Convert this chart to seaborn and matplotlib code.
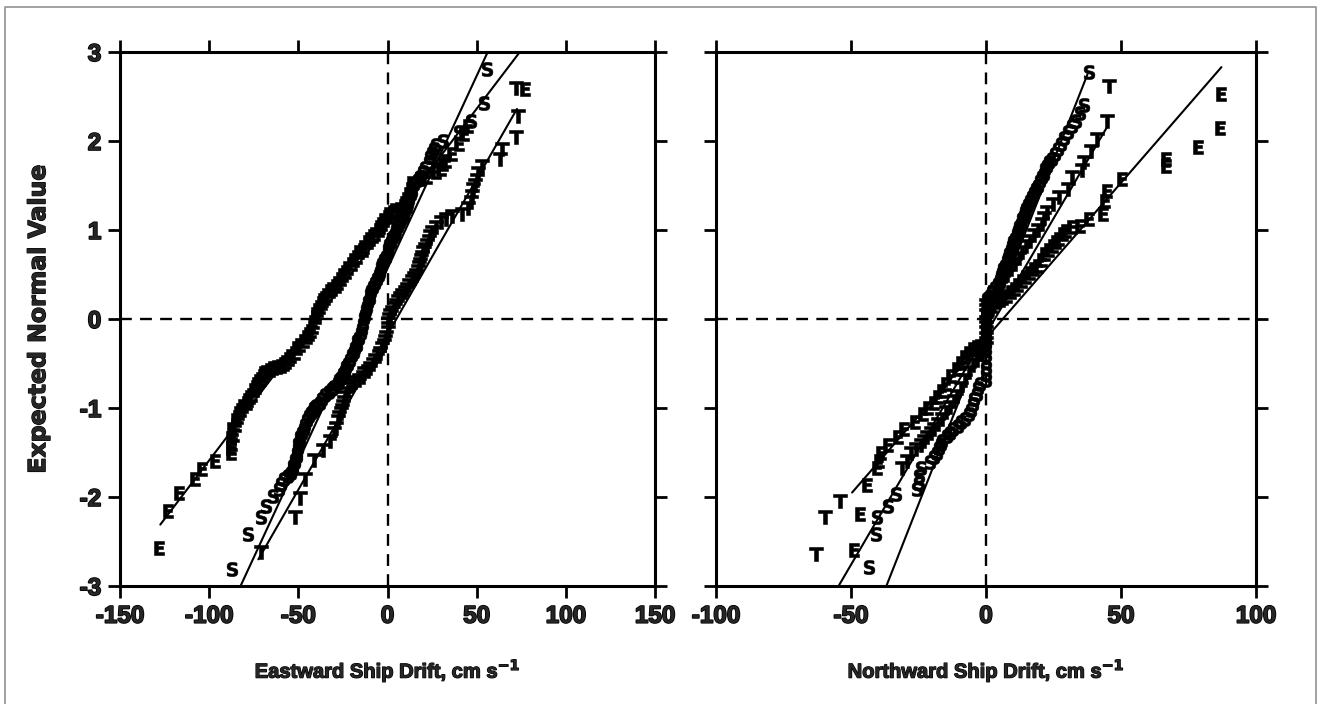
import matplotlib
matplotlib.use("Agg")
import matplotlib.pyplot as plt
import matplotlib.patheffects as pe
import seaborn as sns
import pandas as pd
from matplotlib.lines import Line2D

sns.set_theme(style="ticks")
plt.rcParams['font.family'] = ['Liberation Sans', 'DejaVu Sans']
plt.rcParams['mathtext.fontset'] = 'dejavusans'

# ---------------- data ----------------
# Left panel: eastward ship drift (cm/s) against expected normal value
east_E_x = [-128, -123, -117, -108, -104, -97, -88, -88, -87, -88, -86, -87, -85, -85, -84, -83, -82, -81,
            -79, -78, -77, -76, -75, -74, -73, -72, -71, -70, -69, -68, -66, -64, -62, -60, -58, -57, -55,
            -54, -52, -51, -49, -47, -45, -44, -43, -42, -41, -40, -40, -39, -38, -37, -36, -35, -34, -32,
            -31, -29, -28, -26, -25, -23, -22, -20, -19, -17, -16, -14, -13, -11, -10, -8, -7, -5, -4, -3,
            -2, 0, 1, 3, 4, 7, 9, 10, 11, 12, 13, 14, 18, 22, 27, 30, 31, 33, 36, 40, 43, 45, 77]
east_E_y = [-2.57, -2.16, -1.96, -1.80, -1.69, -1.60, -1.50, -1.45, -1.40, -1.34, -1.30, -1.24, -1.19, -1.14,
            -1.10, -1.06, -1.02, -0.98, -0.94, -0.91, -0.88, -0.85, -0.80, -0.76, -0.73, -0.70, -0.67, -0.64,
            -0.61, -0.59, -0.57, -0.55, -0.54, -0.53, -0.51, -0.48, -0.45, -0.42, -0.38, -0.33, -0.29, -0.25,
            -0.20, -0.17, -0.14, -0.09, -0.03, 0.02, 0.06, 0.10, 0.14, 0.18, 0.21, 0.24, 0.27, 0.31, 0.34,
            0.37, 0.40, 0.45, 0.49, 0.53, 0.57, 0.62, 0.66, 0.70, 0.75, 0.78, 0.81, 0.86, 0.90, 0.93, 0.96,
            1.00, 1.03, 1.07, 1.11, 1.15, 1.18, 1.20, 1.22, 1.24, 1.27, 1.30, 1.35, 1.40, 1.46, 1.53, 1.57,
            1.60, 1.65, 1.69, 1.74, 1.78, 1.85, 1.97, 2.08, 2.17, 2.58]

east_S_x = [-87, -78, -71, -68, -64, -61, -60, -58, -56, -54, -53, -53, -52, -52, -51, -51, -50, -50, -49,
            -49, -48, -47, -46, -45, -44, -43, -42, -41, -40, -38, -37, -35, -33, -31, -30, -28, -27, -26,
            -25, -24, -23, -22, -21, -20, -19, -18, -17, -17, -16, -15, -14.5, -14, -13, -12.5, -12, -11.5,
            -11, -10, -10, -9, -8, -7, -6, -5, -4, -3.5, -3, -2, -1, 0, 0.5, 1, 2, 3, 4, 5, 6, 7, 8, 9, 10,
            11, 11.5, 12, 13, 13.5, 14, 15, 17, 18, 20, 21, 23, 24, 25, 26, 27, 31, 40, 47, 54, 56]
east_S_y = [-2.81, -2.42, -2.23, -2.10, -1.99, -1.91, -1.85, -1.80, -1.76, -1.73, -1.69, -1.65, -1.61, -1.58,
            -1.54, -1.50, -1.45, -1.41, -1.37, -1.33, -1.28, -1.24, -1.19, -1.14, -1.09, -1.06, -1.03, -1.00,
            -0.98, -0.94, -0.90, -0.85, -0.82, -0.79, -0.76, -0.72, -0.69, -0.66, -0.62, -0.58, -0.54, -0.50,
            -0.46, -0.41, -0.37, -0.33, -0.29, -0.25, -0.21, -0.16, -0.11, -0.06, 0.01, 0.05, 0.10, 0.14,
            0.19, 0.24, 0.28, 0.32, 0.36, 0.41, 0.45, 0.49, 0.53, 0.58, 0.62, 0.66, 0.70, 0.75, 0.79, 0.83,
            0.87, 0.92, 0.96, 1.00, 1.05, 1.09, 1.13, 1.17, 1.22, 1.26, 1.30, 1.35, 1.40, 1.44, 1.48, 1.52,
            1.56, 1.60, 1.65, 1.70, 1.76, 1.82, 1.87, 1.91, 1.95, 2.00, 2.10, 2.23, 2.43, 2.81]

east_T_x = [-71, -52, -49, -46, -41, -36, -32, -30, -29, -28, -27, -26, -25.5, -25, -24.5, -24, -23, -22,
            -20, -18, -16, -14, -13, -11, -10, -8, -7, -5, -4, -3, -2, -1.5, -1, 0, 0, 0.5, 1, 1.5, 2.5, 3.5,
            4.5, 6, 7, 8, 10, 11, 12, 14, 15, 16, 17, 17.5, 18, 19, 19.5, 20, 21, 22, 23, 24, 25, 27, 30, 33,
            36, 42, 45, 47, 47.5, 48, 49, 50, 51, 53, 63, 64, 72, 73, 72]
east_T_y = [-2.62, -2.23, -2.01, -1.80, -1.58, -1.47, -1.37, -1.28, -1.22, -1.15, -1.10, -1.06, -1.02, -0.98,
            -0.93, -0.88, -0.83, -0.78, -0.74, -0.71, -0.68, -0.65, -0.61, -0.58, -0.55, -0.50, -0.46, -0.42,
            -0.38, -0.33, -0.29, -0.25, -0.20, -0.15, -0.10, -0.05, 0.00, 0.04, 0.08, 0.12, 0.16, 0.20, 0.24,
            0.27, 0.30, 0.34, 0.38, 0.43, 0.46, 0.49, 0.54, 0.58, 0.62, 0.66, 0.70, 0.75, 0.79, 0.83, 0.88,
            0.93, 0.98, 1.03, 1.09, 1.12, 1.16, 1.18, 1.25, 1.31, 1.38, 1.46, 1.51, 1.56, 1.64, 1.72, 1.80,
            1.91, 2.04, 2.28, 2.60]

# Right panel: northward ship drift (cm/s) against expected normal value
north_S_x = [-43.3, -40.7, -40.4, -36.2, -33.3, -25.5, -25.0, -24.8, -24.1, -20.6, -19.1, -18.2, -17.5,
             -16.8, -16.3, -14.5, -13.2, -12.1, -10.5, -9.2, -7.8, -6.4, -5.6, -4.8, -4.3, -3.5, -2.8, -2.1,
             0, 0, 0, 0, 0, 0, 0, 0, 0, 0, 0, 0, 0, 0.5, 1.5, 2.1, 3.2, 4.3, 5.0, 5.7, 6.0, 6.4, 7.0, 7.6,
             8.0, 8.5, 9.1, 9.6, 10.1, 10.6, 11.3, 12.0, 12.4, 12.8, 13.4, 14.0, 14.4, 14.9, 15.6, 16.3,
             17.0, 17.8, 18.5, 19.1, 20.0, 20.6, 21.3, 22.0, 22.7, 23.4, 24.4, 25.5, 26.5, 27.7, 29.0, 30.5,
             32.0, 33.3, 34.8, 36.2, 38.3]
north_S_y = [-2.79, -2.42, -2.23, -2.10, -1.97, -1.91, -1.84, -1.76, -1.67, -1.61, -1.55, -1.50, -1.45,
             -1.41, -1.37, -1.32, -1.28, -1.24, -1.20, -1.16, -1.12, -1.07, -1.02, -0.96, -0.90, -0.84,
             -0.78, -0.73, -0.69, -0.62, -0.55, -0.48, -0.41, -0.34, -0.27, -0.20, -0.13, -0.06, 0.01, 0.08,
             0.15, 0.22, 0.26, 0.30, 0.35, 0.39, 0.44, 0.48, 0.52, 0.56, 0.60, 0.65, 0.69, 0.73, 0.78, 0.82,
             0.86, 0.90, 0.95, 0.99, 1.03, 1.07, 1.12, 1.16, 1.20, 1.24, 1.28, 1.33, 1.37, 1.42, 1.46, 1.50,
             1.55, 1.59, 1.63, 1.68, 1.72, 1.76, 1.80, 1.85, 1.91, 1.97, 2.03, 2.10, 2.17, 2.23, 2.31, 2.40,
             2.77]

north_T_x = [-63.1, -59.6, -53.9, -31.2, -29.1, -27.7, -26.0, -24.1, -23.0, -22.0, -20.5, -19.1, -17.7,
             -16.3, -14.9, -13.5, -12.0, -10.6, -9.2, -7.8, -6.4, -5.0, -3.5, -2.1, 0, 0, 0, 0, 0, 0, 0, 0,
             0, 1.8, 3.5, 5.0, 6.4, 7.8, 9.2, 10.6, 12.1, 13.5, 14.9, 16.3, 17.7, 19.1, 20.6, 21.6, 22.7,
             24.8, 27.0, 30.5, 31.9, 35.5, 36.2, 39.0, 41.1, 44.7, 45.4]
north_T_y = [-2.64, -2.23, -2.04, -1.67, -1.59, -1.50, -1.46, -1.42, -1.37, -1.33, -1.28, -1.24, -1.18,
             -1.12, -1.05, -0.99, -0.92, -0.86, -0.78, -0.69, -0.60, -0.52, -0.46, -0.39, -0.33, -0.27,
             -0.21, -0.15, -0.09, -0.03, 0.04, 0.10, 0.16, 0.23, 0.30, 0.36, 0.43, 0.49, 0.56, 0.62, 0.69,
             0.75, 0.82, 0.88, 0.94, 1.00, 1.07, 1.13, 1.20, 1.29, 1.37, 1.46, 1.59, 1.67, 1.76, 1.89, 2.02,
             2.23, 2.62]

north_E_x = [-48.9, -46.8, -44.0, -40.4, -39.7, -39.0, -36.2, -32.6, -30.5, -26.2, -23.4, -21.3, -19.1,
             -17.8, -16.3, -14.9, -12.8, -10.6, -9.2, -7.8, -6.4, -5.0, -3.5, -2.1, 0, 0, 0, 0, 0, 0, 1.0,
             2.1, 3.5, 5.0, 6.4, 7.8, 9.2, 10.6, 12.0, 13.5, 14.9, 16.3, 17.7, 19.1, 20.6, 22.0, 23.4, 24.8,
             25.9, 27.0, 28.4, 29.8, 31.9, 34.8, 38.3, 43.3, 44.0, 44.7, 50.4, 66.7, 66.7, 78.7, 86.5, 87.2]
north_E_y = [-2.60, -2.19, -1.87, -1.67, -1.59, -1.50, -1.42, -1.33, -1.24, -1.16, -1.07, -1.00, -0.94,
             -0.88, -0.81, -0.73, -0.64, -0.56, -0.49, -0.43, -0.38, -0.34, -0.31, -0.30, -0.25, -0.19,
             -0.13, -0.07, -0.01, 0.05, 0.11, 0.15, 0.19, 0.21, 0.24, 0.26, 0.30, 0.34, 0.38, 0.43, 0.47,
             0.52, 0.56, 0.60, 0.66, 0.73, 0.78, 0.82, 0.86, 0.90, 0.95, 0.99, 1.03, 1.05, 1.12, 1.18, 1.33,
             1.44, 1.57, 1.72, 1.80, 1.93, 2.15, 2.53]

# fitted straight lines (end points)
east_fit_E_x, east_fit_E_y = [-127.4, 74.2], [-2.31, 3.0]
east_fit_S_x, east_fit_S_y = [-82.4, 56.2], [-3.0, 3.0]
east_fit_T_x, east_fit_T_y = [-72.4, 72.6], [-2.70, 2.36]
north_fit_S_x, north_fit_S_y = [-36.9, 37.6], [-3.0, 2.75]
north_fit_T_x, north_fit_T_y = [-54.6, 44.7], [-3.0, 2.15]
north_fit_E_x, north_fit_E_y = [-49.6, 87.2], [-1.95, 2.83]

east_ticks = [-150, -100, -50, 0, 50, 100, 150]
east_ticklabels = ["-150", "-100", "-50", "0", "50", "100", "150"]
north_ticks = [-100, -50, 0, 50, 100]
north_ticklabels = ["-100", "-50", "0", "50", "100"]
y_ticks = [-3, -2, -1, 0, 1, 2, 3]
y_ticklabels = ["-3", "-2", "-1", "0", "1", "2", "3"]

# ---------------- figure ----------------
W, H = 1320, 704
fig = plt.figure(figsize=(W / 100, H / 100), dpi=100)
fig.patch.set_facecolor("white")
axL = fig.add_axes([120 / W, 1 - 586 / H, 535 / W, 534 / H])
axR = fig.add_axes([716 / W, 1 - 586 / H, 540 / W, 534 / H])

markers = {"E": r"$\mathbf{E}$", "S": r"$\mathbf{S}$", "T": r"$\mathbf{T}$"}
heavy = [pe.withStroke(linewidth=1.2, foreground="black")]


def draw_panel(ax, series, fits, xlim, ticks, ticklabels, show_ylabels):
    ax.set_facecolor("white")
    ax.axhline(0, color="black", lw=1.7, ls=(0, (5, 3.5)), zorder=1)
    ax.axvline(0, color="black", lw=1.7, ls=(0, (5, 3.5)), zorder=1)
    for fx, fy in fits:
        sns.lineplot(x=fx, y=fy, ax=ax, color="black", lw=1.5, sort=False,
                     estimator=None, zorder=2)
    for key, (sx, sy) in series.items():
        df = pd.DataFrame({"x": sx, "y": sy})
        sns.scatterplot(data=df, x="x", y="y", ax=ax, marker=markers[key], s=105,
                        color="black", edgecolor="black", linewidth=0.4, zorder=3)
    ax.set_xlim(*xlim)
    ax.set_ylim(-3, 3)
    ax.set_xticks(ticks)
    ax.set_xticklabels(ticklabels, fontsize=17.5, fontweight="bold")
    ax.set_yticks(y_ticks)
    if show_ylabels:
        ax.set_yticklabels(y_ticklabels, fontsize=17.5, fontweight="bold")
    else:
        ax.set_yticklabels([])
    ax.tick_params(axis="both", direction="out", length=8.5, width=2.0, color="black",
                   top=True, right=True, bottom=True, left=True,
                   labeltop=False, labelright=False, labelleft=show_ylabels, pad=5)
    for lab in ax.get_xticklabels() + ax.get_yticklabels():
        lab.set_path_effects(heavy)
    for sp in ax.spines.values():
        sp.set_visible(True)
        sp.set_color("black")
        sp.set_linewidth(2.2)
    ax.set_xlabel("")
    ax.set_ylabel("")


draw_panel(axL,
           {"E": (east_E_x, east_E_y), "S": (east_S_x, east_S_y), "T": (east_T_x, east_T_y)},
           [(east_fit_E_x, east_fit_E_y), (east_fit_S_x, east_fit_S_y), (east_fit_T_x, east_fit_T_y)],
           (-150, 150), east_ticks, east_ticklabels, True)
draw_panel(axR,
           {"E": (north_E_x, north_E_y), "S": (north_S_x, north_S_y), "T": (north_T_x, north_T_y)},
           [(north_fit_E_x, north_fit_E_y), (north_fit_S_x, north_fit_S_y), (north_fit_T_x, north_fit_T_y)],
           (-100, 100), north_ticks, north_ticklabels, False)

axL.set_xlabel(r"Eastward Ship Drift, cm s$^{\mathbf{-1}}$", fontsize=14.5, fontweight="bold")
axL.xaxis.set_label_coords(0.5, -0.135)
axR.set_xlabel(r"Northward Ship Drift, cm s$^{\mathbf{-1}}$", fontsize=14.5, fontweight="bold")
axR.xaxis.set_label_coords(0.5, -0.135)
axL.set_ylabel("Expected Normal Value", fontsize=17, fontweight="bold", family="DejaVu Sans")
axL.yaxis.set_label_coords(-0.153, 0.5)
axL.yaxis.label.set_va("center")
for lab in (axL.xaxis.label, axR.xaxis.label, axL.yaxis.label):
    lab.set_path_effects([pe.withStroke(linewidth=0.9, foreground="black")])

# light outer frame of the scanned figure
fig.add_artist(Line2D([4.5 / W, 4.5 / W, 1316 / W, 1316 / W], [0.0, 1 - 7 / H, 1 - 7 / H, 0.0],
                      transform=fig.transFigure, color="#9a9a9a", lw=1.3))

fig.savefig("out.png", dpi=100, facecolor="white")
